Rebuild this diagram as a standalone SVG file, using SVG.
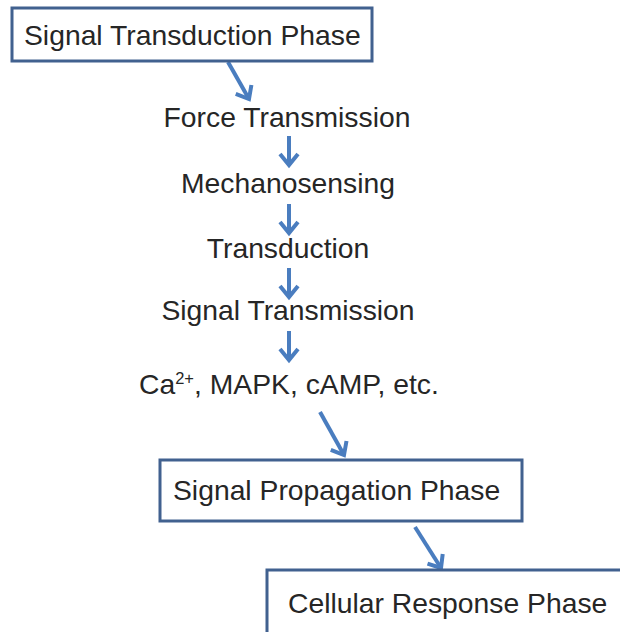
<svg xmlns="http://www.w3.org/2000/svg" width="620" height="632" viewBox="0 0 620 632">
<style>
.box{fill:#ffffff;stroke:#41618f;stroke-width:3}
.t{font-family:"Liberation Sans",Arial,sans-serif;font-size:28.3px;fill:#262626}
.c{text-anchor:middle}
.ar{fill:none;stroke:#4a7dbf;stroke-width:4;stroke-linecap:butt}
</style>
<defs>
<marker id="head" markerUnits="userSpaceOnUse" markerWidth="30" markerHeight="30" refX="0" refY="0" viewBox="-15 -15 30 30" orient="auto" overflow="visible">
<path d="M-11,-9 L0,0 L-11,9" fill="none" stroke="#4a7dbf" stroke-width="4" stroke-linejoin="miter"/>
</marker>
</defs>
<rect width="620" height="632" fill="#ffffff"/>
<g id="connectors">
<path class="ar" d="M228,62 L249,99" marker-end="url(#head)"/>
<path class="ar" d="M289,136 L289,165" marker-end="url(#head)"/>
<path class="ar" d="M289,204 L289,233" marker-end="url(#head)"/>
<path class="ar" d="M289,268 L289,297" marker-end="url(#head)"/>
<path class="ar" d="M289,331 L289,360" marker-end="url(#head)"/>
<path class="ar" d="M320,412 L344,455" marker-end="url(#head)"/>
<path class="ar" d="M415,527 L441,568" marker-end="url(#head)"/>
</g>
<g id="signal-transduction-phase">
<rect class="box" x="12" y="8" width="360" height="53"/>
<text class="t" x="24" y="45" font-size="27.6">Signal Transduction Phase</text>
</g>
<g id="force-transmission">
<text class="t c" x="287" y="127">Force Transmission</text>
</g>
<g id="mechanosensing">
<text class="t c" x="288" y="193">Mechanosensing</text>
</g>
<g id="transduction">
<text class="t c" x="288" y="258">Transduction</text>
</g>
<g id="signal-transmission">
<text class="t c" x="288" y="320">Signal Transmission</text>
</g>
<g id="messengers">
<text class="t" x="139" y="394" font-size="27.3">Ca<tspan font-size="16.5" dy="-10">2+</tspan><tspan dy="10">, MAPK, cAMP, etc.</tspan></text>
</g>
<g id="signal-propagation-phase">
<rect class="box" x="160" y="460" width="362" height="61"/>
<text class="t" x="173" y="500" font-size="27.5">Signal Propagation Phase</text>
</g>
<g id="cellular-response-phase">
<rect class="box" x="267" y="570" width="380" height="80"/>
<text class="t" x="288" y="613" font-size="27.5">Cellular Response Phase</text>
</g>
</svg>
